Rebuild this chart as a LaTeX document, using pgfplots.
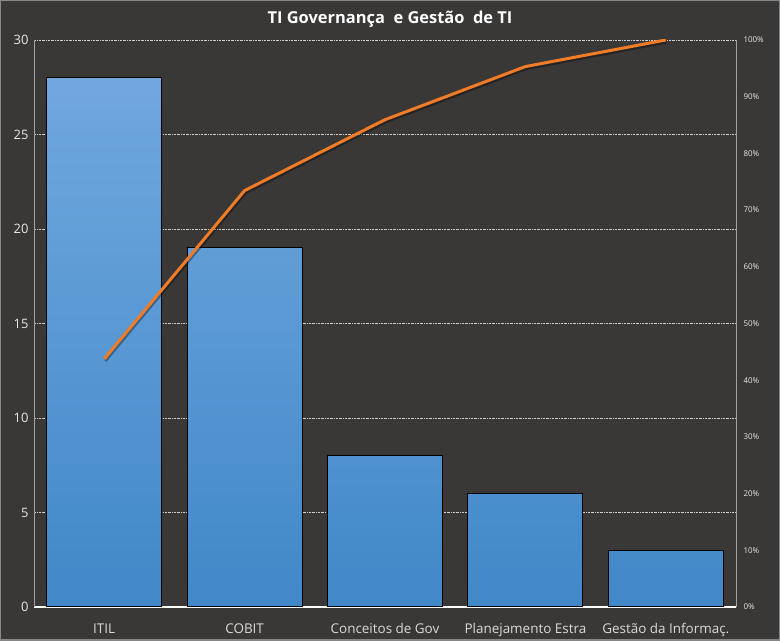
\documentclass[border=0pt]{standalone}
\usepackage{fontspec}
\setmainfont{Open Sans}
\usepackage{pgfplots}
\pgfplotsset{compat=1.18}

\definecolor{bg}{RGB}{58,56,54}
\definecolor{framec}{RGB}{135,135,135}
\definecolor{barlight}{RGB}{116,170,224}
\definecolor{bardark}{RGB}{64,136,200}
\definecolor{linec}{RGB}{240,124,40}
\definecolor{txt}{RGB}{232,232,232}
\colorlet{topA}{barlight!93!bardark}
\colorlet{topB}{barlight!63!bardark}
\colorlet{topC}{barlight!27!bardark}
\colorlet{topD}{barlight!20!bardark}
\colorlet{topE}{barlight!10!bardark}

\pgfplotsset{
  common/.style={
    at={(0,0)}, anchor=south west, scale only axis,
    width=702bp, height=567bp,
    xmin=-0.5, xmax=4.5,
    major tick length=0pt,
    /pgf/number format/assume math mode=true,
  },
  pbar/.style={ybar, bar width=0.82, bar shift=0pt, draw=black, line width=1bp,
    bottom color=bardark},
}

\begin{document}
\begin{tikzpicture}[x=1bp,y=1bp]
\fill[bg] (-34,-34) rectangle (746,607);
\draw[framec, line width=1.5bp] (-33.25,-33.25) rectangle (745.25,606.25);

\begin{axis}[common,
  ymin=0, ymax=30,
  xtick={0,...,4},
  xticklabels={ITIL,COBIT,Conceitos de Gov,Planejamento Estra,Gestão da Informaç.},
  ytick={0,5,...,30},
  ymajorgrids,
  grid style={txt!85!bg, line width=0.6bp, dash pattern=on 2bp off 1bp on 0.5bp off 1bp},
  axis x line*=bottom, axis y line*=left,
  x axis line style={-, draw=white, line width=1.5bp},
  y axis line style={-, draw=txt!60!bg, line width=1bp},
  xticklabel style={font=\fontsize{13.5}{15}\selectfont, text=txt!92!bg, yshift=-13bp},
  yticklabel style={font=\fontsize{13}{15}\selectfont, text=txt, xshift=-2bp},
]
\addplot[pbar, top color=topA, bottom color=bardark] coordinates {(0,28)};
\addplot[pbar, top color=topB, bottom color=bardark] coordinates {(1,19)};
\addplot[pbar, top color=topC, bottom color=bardark] coordinates {(2,8)};
\addplot[pbar, top color=topD, bottom color=bardark] coordinates {(3,6)};
\addplot[pbar, top color=topE, bottom color=bardark] coordinates {(4,3)};
\end{axis}

\begin{axis}[common,
  ymin=0, ymax=100,
  axis x line=none, axis y line*=right,
  y axis line style={-, draw=txt!60!bg, line width=1bp},
  ytick={0,10,...,100},
  yticklabel={\pgfmathprintnumber{\tick}\%},
  yticklabel style={font=\fontsize{8}{10}\selectfont, text=txt, xshift=4bp},
]
\addplot[black, opacity=0.35, line width=3bp, yshift=-2bp, xshift=1bp] coordinates {(0,43.75) (1,73.44) (2,85.94) (3,95.31) (4,100)};
\addplot[linec, line width=3bp] coordinates {(0,43.75) (1,73.44) (2,85.94) (3,95.31) (4,100)};
\end{axis}

\node[text=white, font=\bfseries\fontsize{16.5}{19}\selectfont] at (356,588) {TI Governança \ e Gestão \ de TI};
\pgfresetboundingbox
\path[use as bounding box] (-34,-34) rectangle (746,607);
\end{tikzpicture}
\end{document}
